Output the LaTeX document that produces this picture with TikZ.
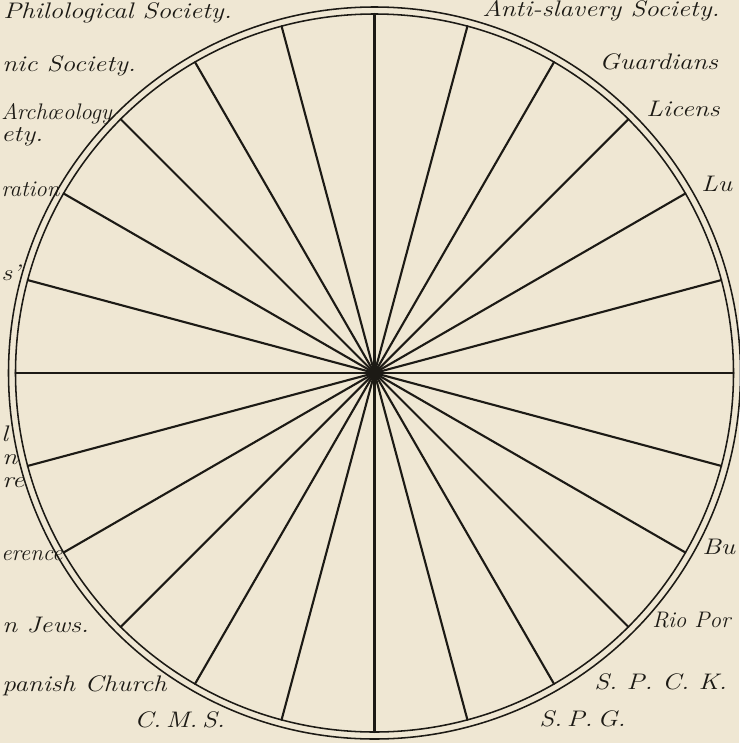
\documentclass[tikz,border=0pt]{standalone}
\usetikzlibrary{calc}
\definecolor{Ink}{HTML}{1C1A15}
\definecolor{Paper}{HTML}{EFE7D3}
\tikzset{
  spoke/.style={line width=1.5pt, draw=Ink, line cap=round},
  rim/.style={line width=1.1pt, draw=Ink},
  society/.style={font=\fontsize{16}{18}\selectfont\itshape, text=Ink,
    inner sep=0pt, xscale=1.2},
  narrow/.style={xscale=0.85}
}
\begin{document}
\begin{tikzpicture}[x=0.025cm,y=-0.025cm]
  \fill[Paper] (0,0) rectangle (739,743);
  \useasboundingbox (0,0) rectangle (739,743);
  \coordinate (hub) at (374.5,373);
  \draw[rim] (hub) circle[radius=366];
  \draw[rim] (hub) circle[radius=359];
  \foreach \a in {0,15,...,345}{
    \coordinate (tip\a) at ($(hub)+(\a:359)$);
    \draw[spoke] (hub) -- (tip\a);
  }
  % left side, cut at the edge
  \node[society,anchor=base west] (philol) at (3,18) {Philological Society.};
  \node[society,anchor=base west] (hellen) at (2,71) {nic Society.};
  \node[society,narrow,anchor=base west] (archae) at (1,119) {Arch\oe ology};
  \node[society,anchor=base west] (archae2) at (1,141) {ety.};
  \node[society,narrow,anchor=base west] (federa) at (1,196) {ration};
  \node[society,anchor=base west] (quote) at (1,280) {s'};
  \node[society,anchor=base west] (frag1) at (1,441) {l};
  \node[society,anchor=base west] (frag2) at (2,464) {n};
  \node[society,anchor=base west] (frag3) at (2,487) {re};
  \node[society,narrow,anchor=base west] (confer) at (1,560) {erence};
  \node[society,anchor=base west] (jews) at (2,632) {n Jews.};
  \node[society,anchor=base west] (spanish) at (2,691) {panish Church};
  \node[society,anchor=base west] (cms) at (134,727) {C.\,M.\,S.};
  % right side
  \node[society,anchor=base west] (spg) at (539,726) {S.\,P.\,G.};
  \node[society,anchor=base west] (spck) at (594,689) {S.\ P.\ C.\ K.};
  \node[society,narrow,anchor=base west] (rio) at (652,627) {Rio Por};
  \node[society,anchor=base west] (bu) at (702,554) {Bu};
  \node[society,anchor=base west] (lu) at (701,191) {Lu};
  \node[society,anchor=base west] (licens) at (646,116) {Licens};
  \node[society,anchor=base west] (guard) at (599,69) {Guardians};
  \node[society,anchor=base west] (antisl) at (482,16) {Anti-slavery Society.};
\end{tikzpicture}
\end{document}
